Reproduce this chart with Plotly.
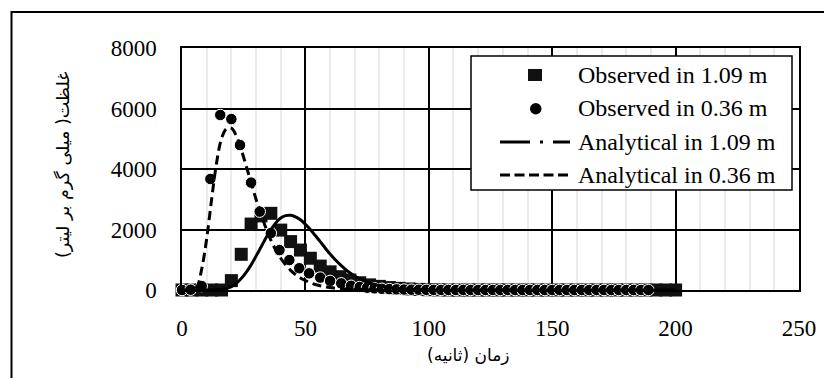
import plotly.graph_objects as go

# ---------------- data ----------------
t_obs_036 = [0, 3.5, 8, 11.5, 15.5, 20, 23.5, 28, 31.5, 36, 39.5, 43.5, 47.5, 51.5, 56, 60, 64.5, 68.5,
             72, 75, 78, 81, 84, 87, 90, 93, 96, 99, 102, 105, 108, 111, 114, 117, 120, 123, 126, 129,
             132, 135, 138, 141, 144, 147, 150, 153, 156, 159, 162, 165, 168, 171, 174, 177, 180, 183,
             186, 189]
c_obs_036 = [0, 10, 130, 3670, 5785, 5650, 4790, 3550, 2590, 1880, 1320, 990, 720, 550, 410, 300, 220, 140,
             100, 75, 55, 40, 30, 22, 15, 10, 8, 5, 4, 3, 2, 2, 1, 1, 1, 0, 0, 0,
             0, 0, 0, 0, 0, 0, 0, 0, 0, 0, 0, 0, 0, 0, 0, 0, 0, 0,
             0, 0]

t_obs_109 = [0, 4, 8, 12, 16, 20, 24, 28, 32, 36, 40, 44, 48, 52, 56, 60, 64, 68, 72, 76, 80, 84, 88, 92,
             96, 100, 104, 108, 112, 116, 120, 124, 128, 132, 136, 140, 144, 148, 152, 156, 160, 164,
             168, 172, 176, 180, 184, 188, 192, 196, 200]
c_obs_109 = [0, 0, 0, 0, 0, 310, 1180, 2180, 2450, 2535, 1980, 1600, 1320, 1050, 790, 600, 440, 330, 240,
             170, 120, 80, 55, 35, 20, 10, 5, 0, 0, 0, 0, 0, 0, 0, 0, 0, 0, 0, 0, 0, 0, 0,
             0, 0, 0, 0, 0, 0, 0, 0, 0]

t_ana_109 = [0, 10, 14, 18, 20, 22, 24, 26, 28, 30, 32, 34, 36, 38, 40, 42, 44, 46, 48, 50, 52, 54, 56,
             58, 60, 62, 64, 66, 68, 70, 72, 76, 80, 85, 90, 100, 110, 150, 200]
c_ana_109 = [0, 0, 5, 50, 110, 220, 380, 580, 830, 1120, 1420, 1720, 1990, 2220, 2380, 2460, 2470, 2420,
             2320, 2170, 2000, 1800, 1600, 1390, 1190, 1010, 850, 700, 570, 460, 370, 230, 140, 75, 40,
             10, 0, 0, 0]

t_ana_036 = [0, 4, 6, 8, 10, 12, 14, 16, 18, 20, 22, 24, 26, 28, 30, 32, 34, 36, 38, 40, 44, 48, 52, 56,
             60, 65, 70, 80, 90, 120, 150, 190]
c_ana_036 = [0, 0, 100, 700, 1700, 3000, 4200, 5000, 5330, 5350, 5100, 4650, 4100, 3550, 3000, 2500,
             2050, 1650, 1320, 1050, 650, 400, 240, 140, 80, 40, 20, 5, 0, 0, 0, 0]

x_ticks = [0, 50, 100, 150, 200, 250]
x_minor = [10, 20, 30, 40, 60, 70, 80, 90, 110, 120, 130, 140, 160, 170, 180, 190, 210, 220, 230, 240]
y_ticks = [0, 2000, 4000, 6000, 8000]

names = ["Observed in 1.09 m", "Observed in 0.36 m", "Analytical in 1.09 m", "Analytical in 0.36 m"]
x_title = "زمان (ثانیه)"
y_title = "غلظت( میلی گرم بر لیتر)"

# ---------------- figure ----------------
OFF = 8                      # page body margin
W, H = 832 - OFF, 378 - OFF
L, R, T, B = 182 - OFF, 33, 48 - OFF, 88
pw, ph = W - L - R, H - T - B

def px_x(p):
    return (p - OFF - L) / pw

def px_y(p):
    return (H - B - (p - OFF)) / ph

serif = "Liberation Serif, Times New Roman, serif"
arab = "DejaVu Sans, sans-serif"

fig = go.Figure()
fig.add_trace(go.Scatter(x=t_obs_109, y=c_obs_109, mode="markers", name=names[0], cliponaxis=False,
                         marker=dict(symbol="square", size=13, color="#111111")))
fig.add_trace(go.Scatter(x=t_obs_036, y=c_obs_036, mode="markers", name=names[1], cliponaxis=False,
                         marker=dict(symbol="circle", size=11.5, color="black",
                                     line=dict(color="white", width=1))))
fig.add_trace(go.Scatter(x=t_ana_109, y=c_ana_109, mode="lines", name=names[2],
                         cliponaxis=False, line=dict(color="black", width=3, shape="spline")))
fig.add_trace(go.Scatter(x=t_ana_036, y=c_ana_036, mode="lines", name=names[3], cliponaxis=False,
                         line=dict(color="black", width=3, dash="9px,5px", shape="spline")))

tickfont = dict(family=serif, size=23, color="black")

# ---- legend drawn as a boxed key (shapes + text) ----
def P(xp, yp):
    return px_x(xp), px_y(yp)

leg_shapes = []
bx0, by0 = P(471, 56)
bx1, by1 = P(792, 190)
leg_shapes.append(dict(type="rect", xref="paper", yref="paper", x0=bx0, x1=bx1, y0=by1, y1=by0,
                       line=dict(color="black", width=1.5), fillcolor="white", layer="above"))
# square key
a, b = P(528, 69)
c, d = P(542, 81)
leg_shapes.append(dict(type="rect", xref="paper", yref="paper", x0=a, x1=c, y0=d, y1=b,
                       line=dict(width=0), fillcolor="#111111", layer="above"))
# circle key
a, b = P(530, 103)
c, d = P(541.5, 114.5)
leg_shapes.append(dict(type="circle", xref="paper", yref="paper", x0=a, x1=c, y0=d, y1=b,
                       line=dict(width=0), fillcolor="black", layer="above"))
# dash-dot key
a, b = P(500, 142)
c, _ = P(570, 142)
leg_shapes.append(dict(type="line", xref="paper", yref="paper", x0=a, x1=c, y0=b, y1=b,
                       line=dict(color="black", width=3, dash="30px,10px,3px,10px"), layer="above"))
# dashed key
a, b = P(500, 175)
c, _ = P(570, 175)
leg_shapes.append(dict(type="line", xref="paper", yref="paper", x0=a, x1=c, y0=b, y1=b,
                       line=dict(color="black", width=3, dash="10px,4.5px"), layer="above"))

leg_rows = [75, 108, 142, 175]
leg_ann = [dict(text=n, xref="paper", yref="paper", x=px_x(576), y=px_y(yy), showarrow=False,
                xanchor="left", yanchor="middle", font=dict(family=serif, size=24, color="black"))
           for n, yy in zip(names, leg_rows)]

frame = dict(type="rect", xref="paper", yref="paper",
             x0=px_x(11.5), x1=px_x(860), y0=px_y(420), y1=px_y(12),
             line=dict(color="black", width=2), fillcolor="rgba(0,0,0,0)", layer="below")

fig.update_layout(
    width=W, height=H,
    margin=dict(l=L, r=R, t=T, b=B, pad=0),
    paper_bgcolor="white", plot_bgcolor="white",
    font=dict(family=serif, size=22, color="black"),
    showlegend=False,
    xaxis=dict(range=[0, 250], tickvals=x_ticks, ticktext=[str(v) for v in x_ticks],
               showgrid=True, gridcolor="black", gridwidth=1.5,
               minor=dict(tickvals=x_minor, showgrid=True, gridcolor="#ebebeb", gridwidth=2),
               showline=True, linecolor="black", linewidth=1.5, mirror=True,
               ticks="", zeroline=False, ticklabelstandoff=17, automargin=False,
               tickfont=tickfont),
    yaxis=dict(range=[0, 8000], tickvals=y_ticks, ticktext=[str(v) for v in y_ticks],
               showgrid=True, gridcolor="black", gridwidth=1.5,
               showline=True, linecolor="black", linewidth=1.5, mirror=True,
               ticks="", zeroline=False, ticklabelstandoff=19, automargin=False,
               tickfont=tickfont),
    shapes=[frame] + leg_shapes,
    annotations=[
        dict(text=x_title, xref="paper", yref="paper", x=px_x(468), y=px_y(355),
             showarrow=False, xanchor="center", yanchor="middle",
             font=dict(family=arab, size=17, color="black")),
        dict(text=y_title, xref="paper", yref="paper", x=px_x(63), y=px_y(165),
             showarrow=False, xanchor="center", yanchor="middle", textangle=-90,
             font=dict(family=arab, size=17.5, color="black")),
    ] + leg_ann,
)

fig.write_html("out.html")
